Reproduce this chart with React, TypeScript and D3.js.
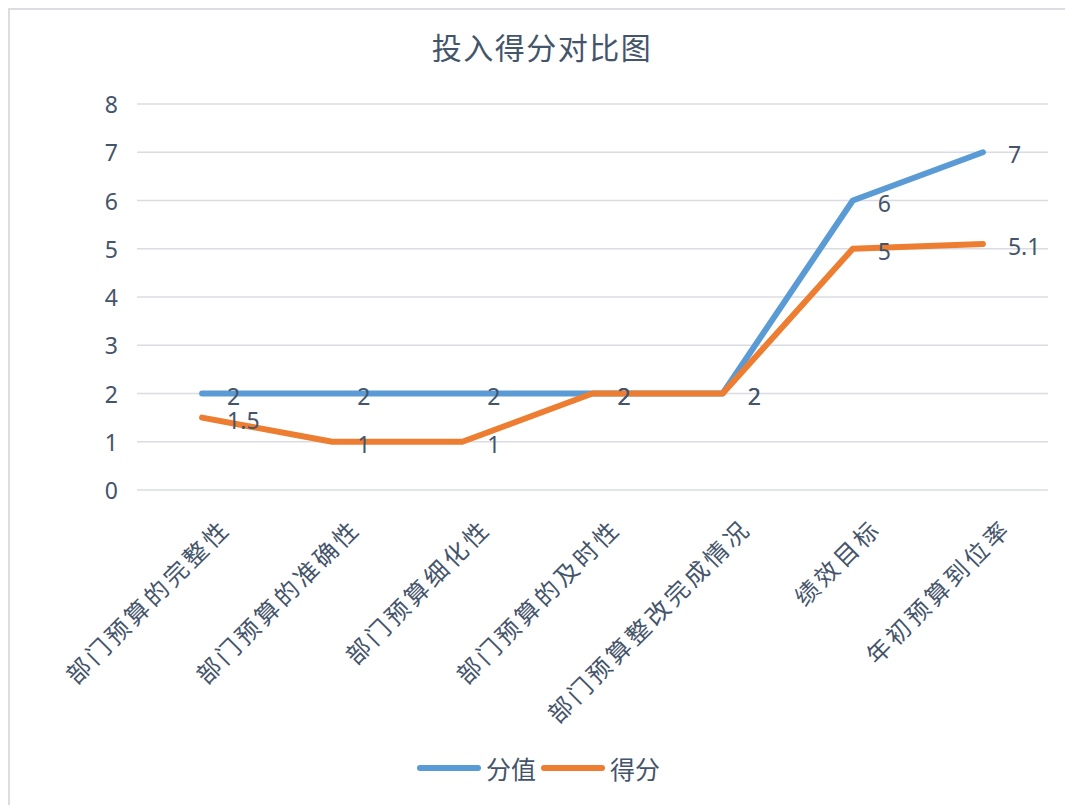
import { useEffect, useRef } from "react";
import * as d3 from "d3";

const categories = [
  "部门预算的完整性",
  "部门预算的准确性",
  "部门预算细化性",
  "部门预算的及时性",
  "部门预算整改完成情况",
  "绩效目标",
  "年初预算到位率",
];
const fullScore = [2, 2, 2, 2, 2, 6, 7];
const gotScore = [1.5, 1, 1, 2, 2, 5, 5.1];
const yTicks = [0, 1, 2, 3, 4, 5, 6, 7, 8];

const seriesNames = ["分值", "得分"];
const seriesColors = ["#5b9bd5", "#ed7d31"];

const W = 1065;
const H = 805;
const CJK = "'Noto Sans CJK SC', sans-serif";
const NUM = "'Noto Sans', 'Open Sans', sans-serif";
const TEXT = "#44546a";

export default function App() {
  const svgRef = useRef<SVGSVGElement>(null);

  useEffect(() => {
    const el = svgRef.current;
    if (!el) return;
    d3.select(el).selectAll("*").remove();

    const svg = d3.select(el).attr("width", W).attr("height", H);

    svg.append("rect").attr("width", W).attr("height", H).attr("fill", "#fff");

    // chart border (only top and left show in the crop)
    svg
      .append("path")
      .attr("d", `M9,${H + 5} L9,9 L${W + 5},9`)
      .attr("fill", "none")
      .attr("stroke", "#dcdde3")
      .attr("stroke-width", 2);

    const x = d3.scaleBand<string>().domain(categories).range([137, 1048]);
    const y = d3.scaleLinear().domain([0, 8]).range([490, 104]);
    const cx = (c: string) => (x(c) ?? 0) + x.bandwidth() / 2;

    // title
    svg
      .append("text")
      .attr("x", 542)
      .attr("y", 46)
      .attr("text-anchor", "middle")
      .attr("dominant-baseline", "central")
      .attr("font-family", CJK)
      .attr("font-size", 30)
      .attr("letter-spacing", 1.5)
      .attr("fill", TEXT)
      .text("投入得分对比图");

    // gridlines + y labels
    const g = svg.append("g");
    g.selectAll("line.grid")
      .data(yTicks)
      .join("line")
      .attr("class", "grid")
      .attr("x1", 137)
      .attr("x2", 1048)
      .attr("y1", (d) => y(d))
      .attr("y2", (d) => y(d))
      .attr("stroke", "#d9dce3")
      .attr("stroke-width", 1.5);

    g.selectAll("text.ytick")
      .data(yTicks)
      .join("text")
      .attr("class", "ytick")
      .attr("x", 118)
      .attr("y", (d) => y(d))
      .attr("text-anchor", "end")
      .attr("dominant-baseline", "central")
      .attr("font-family", NUM)
      .attr("font-size", 23)
      .attr("fill", TEXT)
      .text((d) => d);

    // category labels, rotated
    g.selectAll("text.xcat")
      .data(categories)
      .join("text")
      .attr("class", "xcat")
      .attr("transform", (d) => `translate(${cx(d) + 30},${530}) rotate(-45)`)
      .attr("text-anchor", "end")
      .attr("font-family", CJK)
      .attr("font-size", 24)
      .attr("letter-spacing", 3.5)
      .attr("fill", TEXT)
      .text((d) => d);

    const line = d3
      .line<number>()
      .x((_, i) => cx(categories[i]))
      .y((d) => y(d));

    [fullScore, gotScore].forEach((vals, si) => {
      svg
        .append("path")
        .datum(vals)
        .attr("d", line)
        .attr("fill", "none")
        .attr("stroke", seriesColors[si])
        .attr("stroke-width", 6)
        .attr("stroke-linejoin", "round")
        .attr("stroke-linecap", "round");
    });

    // data labels
    [fullScore, gotScore].forEach((vals) => {
      svg
        .append("g")
        .selectAll("text")
        .data(vals)
        .join("text")
        .attr("x", (_, i) => cx(categories[i]) + 25)
        .attr("y", (d) => y(d) + 2)
        .attr("dominant-baseline", "central")
        .attr("font-family", NUM)
        .attr("font-size", 23)
        .attr("fill", TEXT)
        .text((d) => d);
    });

    // legend
    const leg = svg.append("g");
    const legX = [420, 544];
    seriesNames.forEach((name, i) => {
      leg
        .append("line")
        .attr("x1", legX[i])
        .attr("x2", legX[i] + 58)
        .attr("y1", 768)
        .attr("y2", 768)
        .attr("stroke", seriesColors[i])
        .attr("stroke-width", 6)
        .attr("stroke-linecap", "round");
      leg
        .append("text")
        .attr("x", legX[i] + 66)
        .attr("y", 768)
        .attr("dominant-baseline", "central")
        .attr("font-family", CJK)
        .attr("font-size", 25)
        .attr("fill", TEXT)
        .text(name);
    });
  }, []);

  return <svg ref={svgRef} style={{ position: "absolute", left: 0, top: 0 }} />;
}
